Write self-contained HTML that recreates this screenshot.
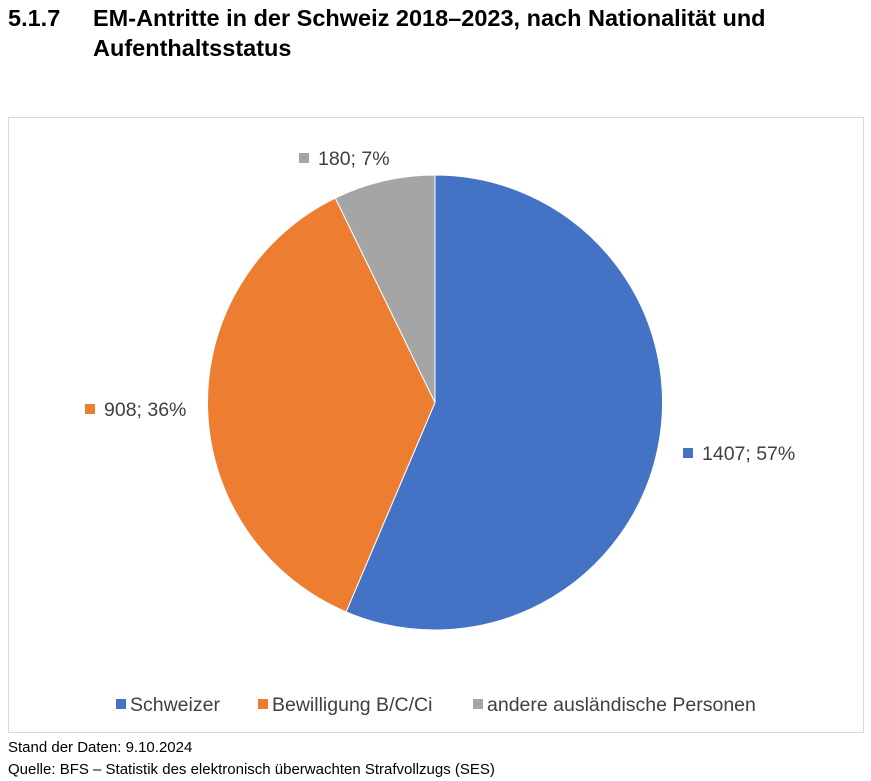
<!DOCTYPE html>
<html><head><meta charset="utf-8"><style>
body{margin:0;width:871px;height:781px;background:#fff;font-family:"Liberation Sans",Arial,sans-serif;position:relative;overflow:hidden}
.t{position:absolute;font-weight:bold;font-size:23.5px;color:#000;line-height:30px}
.s{position:absolute;font-size:15px;color:#000}
</style></head><body>
<div class="t" style="left:8px;top:3px">5.1.7</div>
<div class="t" style="left:93px;top:3px">EM-Antritte in der Schweiz 2018–2023, nach Nationalität und<br>Aufenthaltsstatus</div>
<svg width="871" height="781" style="position:absolute;left:0;top:0" font-family="Liberation Sans, Arial, sans-serif">
<rect x="8.5" y="117.5" width="855" height="615" fill="#fff" stroke="#d9d9d9"/>
<path d="M435,402.5 L435,175 A227.5,227.5 0 1 1 346.1,611.9 Z" fill="#4472c4" stroke="#fff" stroke-width="1"/>
<path d="M435,402.5 L346.1,611.9 A227.5,227.5 0 0 1 335.3,198 Z" fill="#ed7d31" stroke="#fff" stroke-width="1"/>
<path d="M435,402.5 L335.3,198 A227.5,227.5 0 0 1 435,175 Z" fill="#a5a5a5" stroke="#fff" stroke-width="1"/>
<rect x="299" y="153" width="10" height="10" fill="#a5a5a5"/>
<text x="318" y="165" font-size="19.5" fill="#404040">180; 7%</text>
<rect x="85" y="404" width="10" height="10" fill="#ed7d31"/>
<text x="104" y="416" font-size="19.5" fill="#404040">908; 36%</text>
<rect x="683" y="448" width="10" height="10" fill="#4472c4"/>
<text x="702" y="460" font-size="19.5" fill="#404040">1407; 57%</text>
<rect x="116" y="699" width="10" height="10" fill="#4472c4"/>
<text x="130" y="711" font-size="19.5" fill="#404040">Schweizer</text>
<rect x="258" y="699" width="10" height="10" fill="#ed7d31"/>
<text x="272" y="711" font-size="19.5" fill="#404040">Bewilligung B/C/Ci</text>
<rect x="473" y="699" width="10" height="10" fill="#a5a5a5"/>
<text x="487" y="711" font-size="19.5" fill="#404040">andere ausländische Personen</text>
</svg>
<div class="s" style="left:8px;top:739px">Stand der Daten: 9.10.2024</div>
<div class="s" style="left:8px;top:761px">Quelle: BFS – Statistik des elektronisch überwachten Strafvollzugs (SES)</div>
</body></html>
